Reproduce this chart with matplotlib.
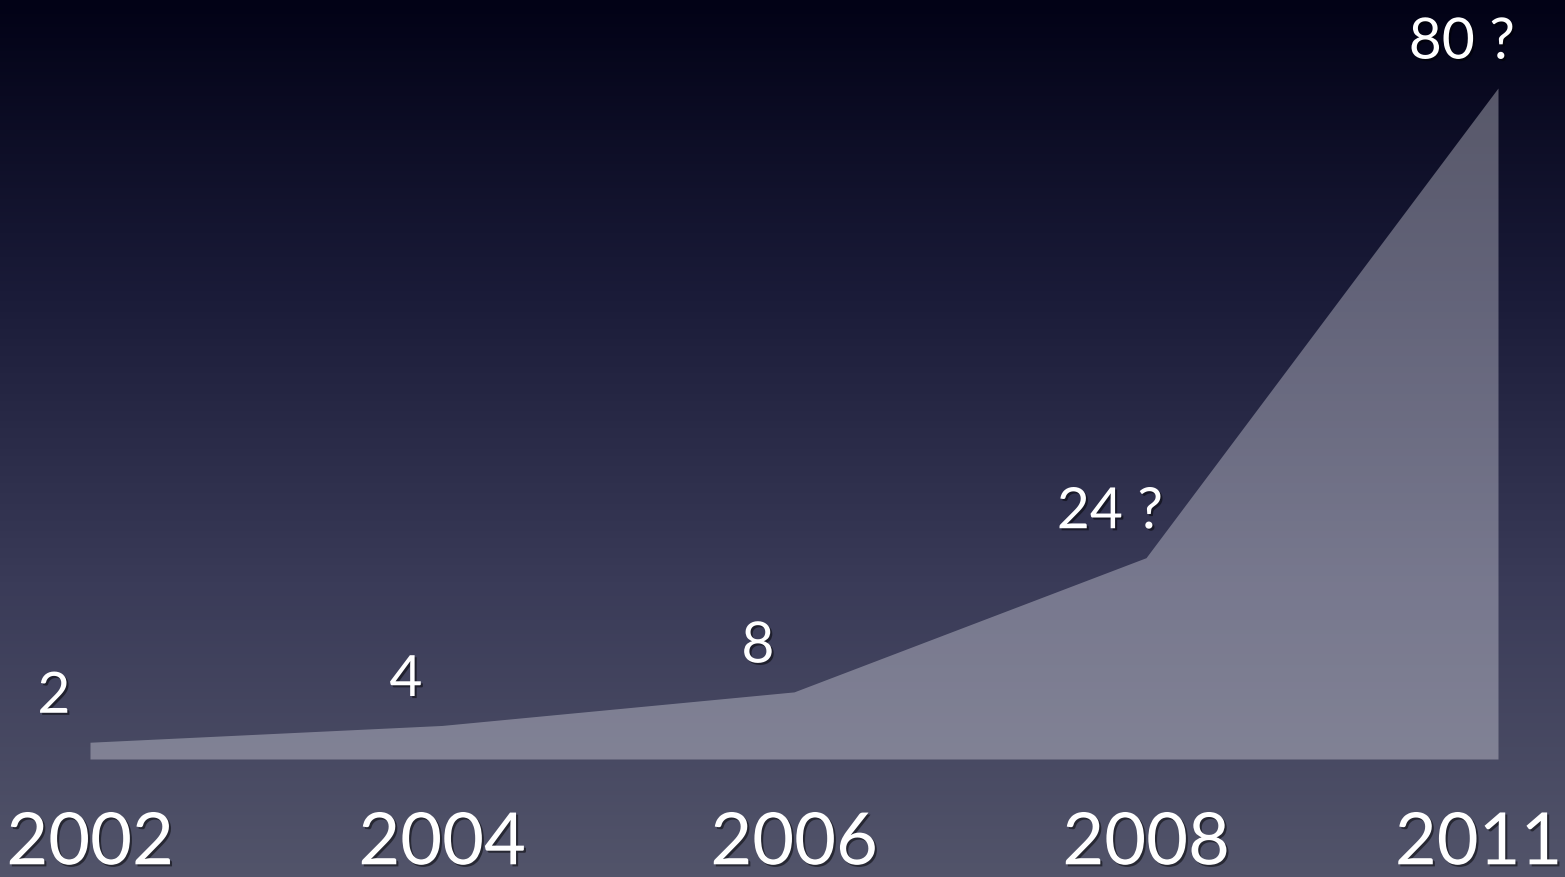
import numpy as np
import matplotlib
matplotlib.use("Agg")
import matplotlib.pyplot as plt
import matplotlib.patheffects as pe
from matplotlib.colors import LinearSegmentedColormap

years = ["2002", "2004", "2006", "2008", "2011"]
values = [2, 4, 8, 24, 80]
value_labels = ["2", "4", "8", "24 ?", "80 ?"]


def main():
    plt.rcParams['font.family'] = ['Lato', 'DejaVu Sans']

    fig = plt.figure(figsize=(15.65, 8.77), dpi=100)
    ax = fig.add_axes([0, 0, 1, 1])

    # pixel layout: first point at x=90, step 352 px, baseline 118 px from bottom
    step = 352.0
    px_per_unit = 671.0 / 80
    ax.set_xlim(-90 / step, (1565 - 90) / step)
    ax.set_ylim(-118 / px_per_unit, (877 - 118) / px_per_unit)
    ax.axis('off')

    # vertical gradient background, dark navy at top
    bg = LinearSegmentedColormap.from_list(
        "bg", ["#020216", "#1a1b38", "#3a3b58", "#52546a"])
    grad = np.linspace(0, 1, 256).reshape(-1, 1)
    ax.imshow(grad, cmap=bg, aspect='auto', extent=[*ax.get_xlim(), *ax.get_ylim()],
              zorder=0, vmin=0, vmax=1)

    x = np.arange(len(years))
    ax.fill_between(x, 0, values, color='#ececf4', alpha=0.35, lw=0, zorder=1)

    shadow = [pe.withSimplePatchShadow(offset=(1.5, -1.5), shadow_rgbFace='black', alpha=0.5)]

    for xi, v, lab in zip(x, values, value_labels):
        ax.annotate(lab, (xi, v), xytext=(-26, 14), textcoords='offset points',
                    ha='center', va='bottom', color='white', fontsize=41,
                    path_effects=shadow, zorder=3)

    for xi, yr in zip(x, years):
        dx = -14 if xi == len(years) - 1 else 0
        ax.annotate(yr, (xi, 0), xycoords=('data', 'axes fraction'),
                    xytext=(dx, 0.5), textcoords='offset points',
                    ha='center', va='bottom', color='white', fontsize=52,
                    path_effects=shadow, zorder=3, annotation_clip=False)

    fig.savefig("out.png", dpi=100)


if __name__ == "__main__":
    main()
